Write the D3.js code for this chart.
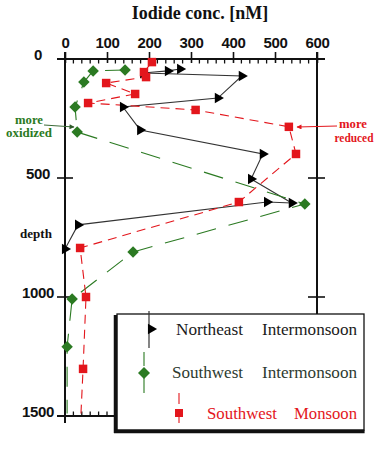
<!DOCTYPE html>
<html>
<head>
<meta charset="utf-8">
<script src="https://cdn.jsdelivr.net/npm/d3@7/dist/d3.min.js"></script>
<style>
  html, body { margin: 0; padding: 0; background: #fff; }
  svg { display: block; }
</style>
</head>
<body>
<svg id="chart" width="378" height="450"></svg>
<script>
// ---------------- data ----------------
const xTickValues = [0, 100, 200, 300, 400, 500, 600];
const yTickValues = [0, 500, 1000, 1500];
const seriesNames = ["Northeast Intermonsoon", "Southwest Intermonsoon", "Southwest Monsoon"];

// Northeast Intermonsoon (iodide nM, depth m)
const neIodide = [274, 245, 186, 421, 364, 138, 179, 471, 443, 540, 481, 31, 0];
const neDepth  = [42, 50, 59, 71, 164, 202, 298, 399, 504, 605, 601, 697, 798];

// Southwest Intermonsoon
const swiIodide = [143, 67, 45, 24, 29, 571, 162, 17, 5];
const swiDepth  = [46, 50, 97, 202, 307, 609, 811, 1008, 1209];
const swiTail   = [5, 1490];   // line continues below last sample

// Southwest Monsoon
const swmIodide = [207, 188, 193, 98, 167, 55, 311, 533, 550, 414, 36, 50, 43];
const swmDepth  = [13, 55, 76, 101, 147, 185, 214, 285, 399, 601, 794, 1000, 1302];
const swmTail   = [38, 1490];

// ---------------- layout ----------------
const svg = d3.select("#chart");
const x = d3.scaleLinear().domain([0, 600]).range([65, 317]);
const y = d3.scaleLinear().domain([0, 1500]).range([59, 416]);

const BLACK = "#111";
const GREEN = "#2b7a22";
const RED = "#e3161c";
const sans = "'Liberation Sans', Arial, sans-serif";
const serif = "'Liberation Serif', 'Times New Roman', serif";

svg.append("rect").attr("width", 378).attr("height", 450).attr("fill", "#fff");

// title
svg.append("text")
  .attr("x", 200).attr("y", 19)
  .attr("text-anchor", "middle")
  .attr("font-family", serif).attr("font-weight", "bold").attr("font-size", 18)
  .attr("fill", "#111")
  .text("Iodide conc. [nM]");

// top axis with labels
const topAxis = svg.append("g")
  .attr("transform", `translate(0,${y(0)})`)
  .call(d3.axisTop(x).tickValues(xTickValues).tickSize(7).tickPadding(4).tickFormat(d3.format("d")));
topAxis.select(".domain").remove();
topAxis.selectAll(".tick line").attr("stroke", BLACK).attr("stroke-width", 1.6).attr("y2", -7).attr("y1", 4);
topAxis.selectAll(".tick text")
  .attr("font-family", sans).attr("font-weight", "bold").attr("font-size", 15)
  .attr("letter-spacing", -0.3).attr("fill", "#111");

// top axis line
svg.append("line")
  .attr("x1", x(0) - 8).attr("x2", x(600) + 8)
  .attr("y1", y(0)).attr("y2", y(0))
  .attr("stroke", BLACK).attr("stroke-width", 2);

// minor ticks (top, pointing down)
const minor = d3.range(0, 601, 20).filter(v => v % 100 !== 0);
svg.append("g").selectAll("line").data(minor).join("line")
  .attr("x1", d => x(d)).attr("x2", d => x(d))
  .attr("y1", y(0)).attr("y2", y(0) + 4.5)
  .attr("stroke", BLACK).attr("stroke-width", 1.3);

// left axis
const leftAxis = svg.append("g")
  .attr("transform", `translate(${x(0)},0)`)
  .call(d3.axisLeft(y).tickValues(yTickValues).tickSize(0).tickFormat(d3.format("d")));
leftAxis.select(".domain").remove();
leftAxis.selectAll(".tick text")
  .attr("x", -27).attr("dy", "0.05em")
  .attr("text-anchor", "middle")
  .attr("font-family", sans).attr("font-weight", "bold").attr("font-size", 15)
  .attr("letter-spacing", -0.3).attr("fill", "#111");

svg.append("line")
  .attr("x1", x(0)).attr("x2", x(0))
  .attr("y1", y(0) - 7).attr("y2", y(1500) + 7)
  .attr("stroke", BLACK).attr("stroke-width", 2);

// left ticks at 500 / 1000 (crossing)
svg.append("g").selectAll("line").data([500, 1000]).join("line")
  .attr("x1", x(0) - 8).attr("x2", x(0) + 8)
  .attr("y1", d => y(d)).attr("y2", d => y(d))
  .attr("stroke", BLACK).attr("stroke-width", 1.6);

// right axis line and ticks
const legendTop = 314;
svg.append("line")
  .attr("x1", x(600)).attr("x2", x(600))
  .attr("y1", y(0) - 7).attr("y2", legendTop)
  .attr("stroke", BLACK).attr("stroke-width", 2);
svg.append("g").selectAll("line").data([500, 1000]).join("line")
  .attr("x1", x(600) - 9).attr("x2", x(600) + 8)
  .attr("y1", d => y(d)).attr("y2", d => y(d))
  .attr("stroke", BLACK).attr("stroke-width", 1.6);

// bottom axis (1500) up to legend
const legendLeft = 117;
svg.append("line")
  .attr("x1", x(0) - 8).attr("x2", legendLeft)
  .attr("y1", y(1500)).attr("y2", y(1500))
  .attr("stroke", BLACK).attr("stroke-width", 2);
svg.append("g").selectAll("line").data([20, 40, 60, 80, 100]).join("line")
  .attr("x1", d => x(d)).attr("x2", d => x(d))
  .attr("y1", y(1500)).attr("y2", y(1500) - 4.5)
  .attr("stroke", BLACK).attr("stroke-width", 1.3);

// depth label
svg.append("text")
  .attr("x", 36).attr("y", 238)
  .attr("text-anchor", "middle")
  .attr("font-family", serif).attr("font-weight", "bold").attr("font-size", 13)
  .attr("fill", "#111").text("depth");

// ---------------- series ----------------
const zip = (a, b) => a.map((v, i) => ({ v, d: b[i] }));
const ne = zip(neIodide, neDepth);
const swi = zip(swiIodide, swiDepth);
const swm = zip(swmIodide, swmDepth);
const swiLine = swi.concat([{ v: swiTail[0], d: swiTail[1] }]);
const swmLine = swm.concat([{ v: swmTail[0], d: swmTail[1] }]);

const line = d3.line().x(d => x(d.v)).y(d => y(d.d));

svg.append("path").datum(ne).attr("d", line)
  .attr("fill", "none").attr("stroke", "#333").attr("stroke-width", 1.1);
svg.append("path").datum(swiLine).attr("d", line)
  .attr("fill", "none").attr("stroke", GREEN).attr("stroke-width", 1.1)
  .attr("stroke-dasharray", "20,13");
svg.append("path").datum(swmLine).attr("d", line)
  .attr("fill", "none").attr("stroke", RED).attr("stroke-width", 1.1)
  .attr("stroke-dasharray", "9,6");

const tri = d3.symbol().type(d3.symbolTriangle).size(48);

svg.append("g").selectAll("path").data(ne).join("path")
  .attr("d", tri)
  .attr("transform", d => `translate(${x(d.v)},${y(d.d)}) rotate(90)`)
  .attr("fill", "#000");
svg.append("g").selectAll("path").data(swi).join("path")
  .attr("d", d3.symbol().type(d3.symbolSquare).size(66)())
  .attr("transform", d => `translate(${x(d.v)},${y(d.d)}) rotate(45)`)
  .attr("fill", GREEN);
svg.append("g").selectAll("path").data(swm).join("path")
  .attr("d", d3.symbol().type(d3.symbolSquare).size(72)())
  .attr("transform", d => `translate(${x(d.v)},${y(d.d)})`)
  .attr("fill", RED);

// ---------------- annotations ----------------
const defs = svg.append("defs");
function arrowMarker(id, color) {
  defs.append("marker").attr("id", id)
    .attr("viewBox", "0 0 10 10").attr("refX", 9).attr("refY", 5)
    .attr("markerWidth", 6).attr("markerHeight", 5).attr("orient", "auto")
    .append("path").attr("d", "M0,0 L10,5 L0,10 z").attr("fill", color);
}
arrowMarker("arrG", "#2e5a2a");
arrowMarker("arrR", RED);

function annot(txt, cx, yb, w, color) {
  svg.append("text").attr("x", cx - w / 2).attr("y", yb)
    .attr("font-family", serif).attr("font-weight", "bold").attr("font-size", 12)
    .attr("textLength", w).attr("lengthAdjust", "spacingAndGlyphs")
    .attr("fill", color).text(txt);
}
annot("more", 29, 123.5, 28, GREEN);
annot("oxidized", 29, 137, 46, GREEN);
svg.append("line").attr("x1", 44).attr("y1", 125).attr("x2", 74).attr("y2", 127)
  .attr("stroke", "#3c6b38").attr("stroke-width", 1).attr("marker-end", "url(#arrG)");

annot("more", 353, 127.5, 28, RED);
annot("reduced", 354, 142, 39, RED);
svg.append("line").attr("x1", 337).attr("y1", 126).attr("x2", 297).attr("y2", 127)
  .attr("stroke", RED).attr("stroke-width", 1).attr("marker-end", "url(#arrR)");

// ---------------- legend ----------------
const lg = svg.append("g");
const legRight = 364, legBottom = 430;
lg.append("rect").attr("x", legendLeft).attr("y", legendTop)
  .attr("width", legRight - legendLeft).attr("height", legBottom - legendTop)
  .attr("fill", "#fff").attr("stroke", BLACK).attr("stroke-width", 1.3);
lg.append("line").attr("x1", legendLeft - 1.5).attr("x2", legendLeft - 1.5)
  .attr("y1", legendTop + 1).attr("y2", legBottom + 3)
  .attr("stroke", BLACK).attr("stroke-width", 3.5);
lg.append("line").attr("x1", legendLeft - 3).attr("x2", legRight + 0.6)
  .attr("y1", legBottom + 1.5).attr("y2", legBottom + 1.5)
  .attr("stroke", BLACK).attr("stroke-width", 3.5);

// legend symbols
lg.append("line").attr("x1", 149).attr("x2", 149).attr("y1", 311).attr("y2", 348)
  .attr("stroke", "#333").attr("stroke-width", 1.2);
lg.append("path").attr("d", tri).attr("transform", "translate(151,329) rotate(90)").attr("fill", "#000");

lg.append("line").attr("x1", 144).attr("x2", 144).attr("y1", 352).attr("y2", 393)
  .attr("stroke", GREEN).attr("stroke-width", 1.1).attr("stroke-dasharray", "14,8,30,8");
lg.append("path").attr("d", d3.symbol().type(d3.symbolSquare).size(72)())
  .attr("transform", "translate(144,373) rotate(45)").attr("fill", GREEN);

lg.append("line").attr("x1", 179).attr("x2", 179).attr("y1", 393).attr("y2", 423)
  .attr("stroke", RED).attr("stroke-width", 1.1).attr("stroke-dasharray", "11,9,20");
lg.append("path").attr("d", d3.symbol().type(d3.symbolSquare).size(64)())
  .attr("transform", "translate(179,413)").attr("fill", RED);

const legText = [
  { s: 0, words: ["Northeast", "Intermonsoon"], xs: [176, 262], ws: [67, 95], yb: 335, c: "#1a1a1a" },
  { s: 1, words: ["Southwest", "Intermonsoon"], xs: [172, 262], ws: [71, 95], yb: 378, c: "#2d3a30" },
  { s: 2, words: ["Southwest", "Monsoon"], xs: [207, 294], ws: [70, 63], yb: 419, c: RED }
];
legText.forEach(t => {
  t.words.forEach((w, i) => {
    lg.append("text").attr("x", t.xs[i]).attr("y", t.yb)
      .attr("font-family", serif).attr("font-size", 16)
      .attr("textLength", t.ws[i]).attr("lengthAdjust", "spacingAndGlyphs")
      .attr("fill", t.c).text(w);
  });
});
</script>
</body>
</html>
